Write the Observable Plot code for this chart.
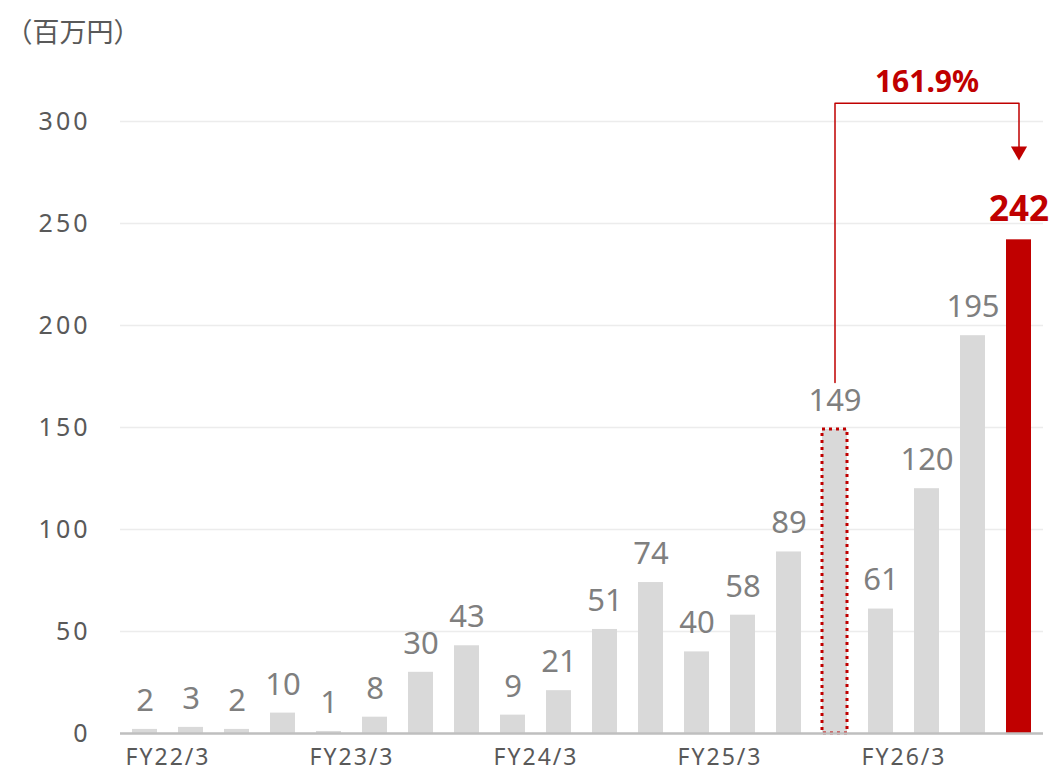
<!DOCTYPE html>
<html>
<head>
<meta charset="utf-8">
<script src="https://cdn.jsdelivr.net/npm/d3@7"></script>
<script src="https://cdn.jsdelivr.net/npm/@observablehq/plot@0.6"></script>
<style>
  body { margin: 0; background: #fff; }
  g[aria-label="y-axis tick label"] text { letter-spacing: 3px; }
  g[aria-label="x-axis tick label"] text { letter-spacing: 2px; }
</style>
</head>
<body>
<div id="chart"></div>
<script>
const years = ["FY22/3", "FY23/3", "FY24/3", "FY25/3", "FY26/3"];
const quarters = ["1Q", "2Q", "3Q", "4Q"];
const values = [2, 3, 2, 10, 1, 8, 30, 43, 9, 21, 51, 74, 40, 58, 89, 149, 61, 120, 195, 242];
const yTicks = [0, 50, 100, 150, 200, 250, 300];
const unitLabel = "（百万円）";
const growthLabel = "161.9%";

const data = values.map((v, i) => ({
  key: years[Math.floor(i / 4)] + " " + quarters[i % 4],
  year: years[Math.floor(i / 4)],
  q: quarters[i % 4],
  v,
  i
}));
const keys = data.map(d => d.key);
const compareFrom = data[15];   // FY25/3 4Q
const compareTo = data[19];     // FY26/3 4Q
const labelAt = data[17];       // centre between the two
const bracketTop = 309;
const bracketBottom = 172;
const arrowEnd = 287;
const arrowHead = 285.5;
const growthY = 319;

const bracket = [
  {key: compareFrom.key, v: bracketBottom},
  {key: compareFrom.key, v: bracketTop},
  {key: compareTo.key, v: bracketTop},
  {key: compareTo.key, v: arrowEnd}
];

const grey = "#d9d9d9";
const red = "#c00000";
const font = "'Noto Sans', 'Noto Sans CJK JP', sans-serif";

const plot = Plot.plot({
  width: 1056,
  height: 772,
  marginTop: 121,
  marginBottom: 39,
  marginLeft: 120,
  marginRight: 13,
  style: {fontFamily: font, background: "#fff"},
  x: {type: "band", domain: keys, paddingInner: 0.45, paddingOuter: 0.225, align: 0.5},
  y: {domain: [0, 300]},
  marks: [
    Plot.gridY(yTicks, {stroke: "#ececec", strokeOpacity: 1, strokeWidth: 1.5}),
    Plot.barY(data.filter(d => d.i !== 15 && d.i !== 19), {x: "key", y: "v", fill: grey}),
    Plot.barY([compareFrom], {x: "key", y: "v", fill: grey, stroke: red, strokeWidth: 3, strokeDasharray: "3 4"}),
    Plot.barY([compareTo], {x: "key", y: "v", fill: red}),
    Plot.ruleY([0], {stroke: "#bfbfbf", strokeWidth: 2.5}),
    Plot.text(data.filter(d => d.i !== 19), {x: "key", y: "v", text: d => String(d.v), fill: "#7f7f7f", fontSize: 31, dy: -28.5}),
    Plot.text([compareTo], {x: "key", y: "v", text: d => String(d.v), fill: red, fontSize: 35, fontWeight: "bold", dy: -30.5}),
    Plot.line(bracket, {x: "key", y: "v", stroke: red, strokeWidth: 1.5}),
    Plot.dot([{key: compareTo.key, v: arrowHead}], {x: "key", y: "v", symbol: "triangle", r: 6, fill: red, stroke: "none", rotate: 180}),
    Plot.text([{key: labelAt.key, v: growthY}], {x: "key", y: "v", text: () => growthLabel, fill: red, fontSize: 30, fontWeight: "bold"}),
    Plot.axisY(yTicks, {tickSize: 0, tickPadding: 30, fontSize: 25, color: "#595959", label: null}),
    Plot.axisX(data.filter(d => d.q === "1Q").map(d => d.key), {
      tickSize: 0, tickPadding: 15, fontSize: 23, color: "#595959", label: null,
      tickFormat: k => k.split(" ")[0], dx: 23
    }),
    Plot.text([unitLabel], {frameAnchor: "top-left", dx: -115, dy: -99, textAnchor: "start", fontSize: 27, fill: "#595959", fontFamily: "'Noto Sans CJK JP', sans-serif"})
  ]
});
document.getElementById("chart").appendChild(plot);
</script>
</body>
</html>
